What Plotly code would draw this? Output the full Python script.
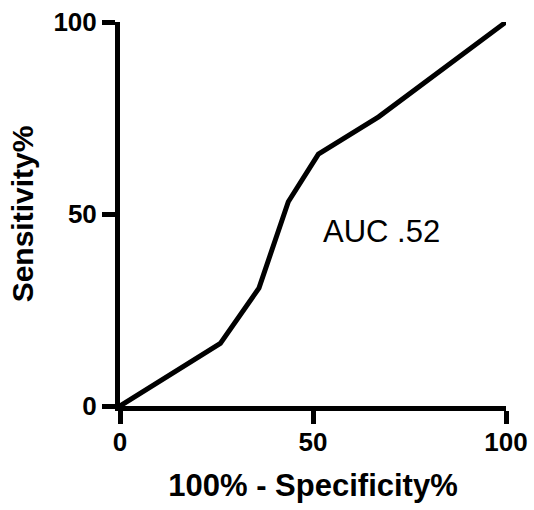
import plotly.graph_objects as go

fpr = [0, 26, 36, 43.6, 51.4, 67, 100]
tpr = [0, 16.3, 30.7, 53.2, 65.6, 75.3, 100]
tick_vals = [0, 50, 100]
tick_text = ["0", "50", "100"]
x_title = "100% - Specificity%"
y_title = "Sensitivity%"
auc_label = "AUC .52"

fig = go.Figure()
fig.add_trace(go.Scatter(x=fpr, y=tpr, mode="lines",
                         line=dict(color="black", width=5),
                         cliponaxis=False, showlegend=False, hoverinfo="skip"))

axis_common = dict(
    range=[0, 100], tickvals=tick_vals, ticktext=tick_text,
    showline=True, linecolor="black", linewidth=5,
    ticks="outside", ticklen=13, tickwidth=5, tickcolor="black",
    showgrid=False, zeroline=False, automargin=False,
    tickfont=dict(family="Liberation Sans", size=26, color="black", weight="bold"),
)
fig.update_xaxes(**axis_common, ticklabelstandoff=-4,
                 title=dict(text=x_title, standoff=20,
                            font=dict(family="Liberation Sans", size=31, color="black", weight="bold")))
fig.update_yaxes(**axis_common,
                 title=dict(text=y_title, standoff=12,
                            font=dict(family="Liberation Sans", size=30, color="black", weight="bold")))

fig.add_annotation(x=52, y=45.5, xref="x", yref="y", text=auc_label,
                   showarrow=False, xanchor="left", yanchor="middle",
                   font=dict(family="Liberation Sans", size=31, color="black"))

fig.update_layout(width=534, height=510,
                  margin=dict(l=120, r=28, t=22, b=104),
                  plot_bgcolor="white", paper_bgcolor="white")
fig.write_html("out.html", config={"displayModeBar": False, "staticPlot": True},
               post_script="document.body.style.margin='0';document.body.style.overflow='hidden';")
